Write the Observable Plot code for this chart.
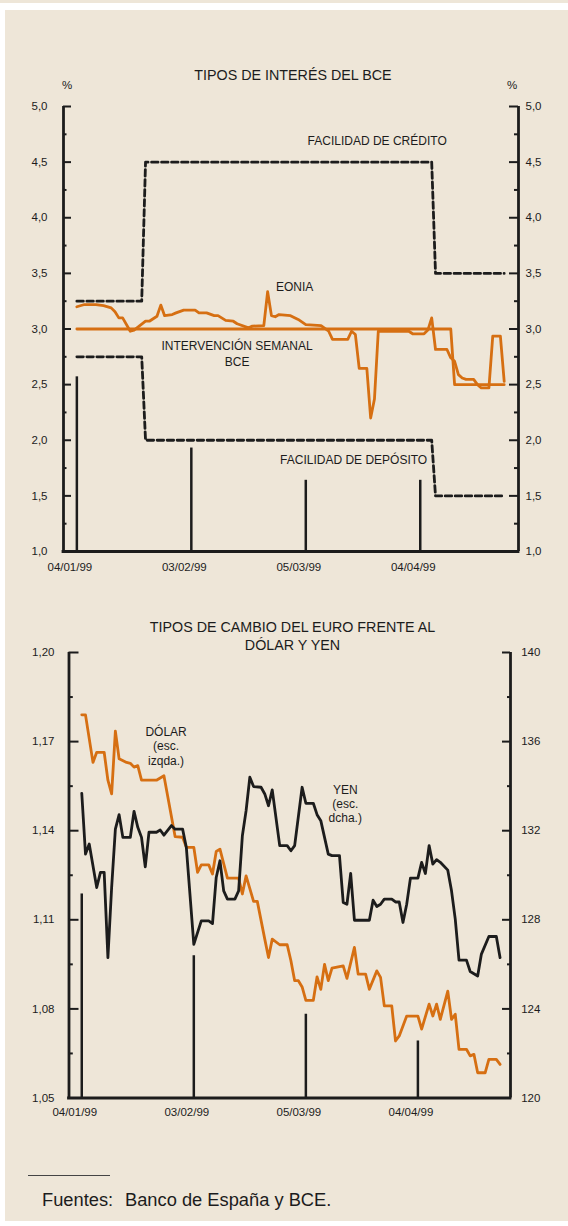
<!DOCTYPE html>
<html><head><meta charset="utf-8">
<script src="https://cdn.jsdelivr.net/npm/d3@7"></script>
<script src="https://cdn.jsdelivr.net/npm/@observablehq/plot@0.6"></script>
<style>
html,body{margin:0;padding:0;background:#fff;}
#page{position:relative;width:568px;height:1226px;overflow:hidden;font-family:"Liberation Sans",Arial,sans-serif;color:#1c1c1c;background:#fff;}
.bg{position:absolute;background:#eee6d8;}
.lbl{position:absolute;white-space:nowrap;line-height:1;transform:translate(-50%,-50%);}
.lft{position:absolute;white-space:nowrap;line-height:1;transform:translate(0,-50%);}
svg{position:absolute;}
</style></head>
<body><div id="page">
<div class="bg" style="left:0;top:0;width:568px;height:3px"></div>
<div class="bg" style="left:5px;top:10px;width:563px;height:1211px"></div>
<div class="lbl" style="left:293px;top:75px;font-size:14.3px">TIPOS DE INTERÉS DEL BCE</div>
<div class="lbl" style="left:67px;top:86px;font-size:11.5px">%</div>
<div class="lbl" style="left:512px;top:86px;font-size:11.5px">%</div>
<div class="lbl" style="left:292.5px;top:626.7px;font-size:14.3px">TIPOS DE CAMBIO DEL EURO FRENTE AL</div>
<div class="lbl" style="left:292.5px;top:645px;font-size:14.3px">DÓLAR Y YEN</div>
<div style="position:absolute;left:28px;top:1175px;width:82px;border-top:1px solid #444"></div>
<div class="lft" style="left:42px;top:1200px;font-size:18.3px">Fuentes:</div>
<div class="lft" style="left:125px;top:1200px;font-size:18.3px">Banco de España y BCE.</div>
</div>
<script>
// ---------- DATA ----------
const monthTicks = ["1999-01-04", "1999-02-03", "1999-03-05", "1999-04-04"];
const monthLineTop1 = [2.57, 1.93, 1.64, 1.64];
const monthLineTop2 = [1.1187, 1.0979, 1.0782, 1.0692];

const rateTicks = [1.0, 1.5, 2.0, 2.5, 3.0, 3.5, 4.0, 4.5, 5.0];
const rateMinorTicks = [1.25, 1.75, 2.25, 2.75, 3.25, 3.75, 4.25, 4.75];
const usdTicks = [1.05, 1.08, 1.11, 1.14, 1.17, 1.20];
const usdMinorTicks = [1.065, 1.095, 1.125, 1.155, 1.185];
const yenTicks = [120, 124, 128, 132, 136, 140];
const yenMinorTicks = [122, 126, 130, 134, 138];

const credito = [["1999-01-04",3.25],["1999-01-21",3.25],["1999-01-22",4.5],["1999-04-07",4.5],["1999-04-08",3.5],["1999-04-26",3.5]];
const deposito = [["1999-01-04",2.75],["1999-01-21",2.75],["1999-01-22",2.0],["1999-04-07",2.0],["1999-04-08",1.5],["1999-04-26",1.5]];
const intervencion = [["1999-01-04",3.0],["1999-04-12",3.0],["1999-04-13",2.5],["1999-04-26",2.5]];
const eonia = [
["1999-01-04",3.20],["1999-01-06",3.22],["1999-01-09",3.22],["1999-01-11",3.21],["1999-01-13",3.19],
["1999-01-14",3.155],["1999-01-15",3.10],["1999-01-16",3.10],["1999-01-18",2.98],["1999-01-19",2.99],
["1999-01-22",3.07],["1999-01-23",3.07],["1999-01-25",3.115],["1999-01-26",3.215],["1999-01-27",3.12],
["1999-01-29",3.13],["1999-01-30",3.145],["1999-02-01",3.17],["1999-02-04",3.17],["1999-02-05",3.145],
["1999-02-07",3.145],["1999-02-09",3.12],["1999-02-10",3.12],["1999-02-12",3.077],["1999-02-14",3.07],
["1999-02-15",3.047],["1999-02-18",3.01],["1999-02-19",3.026],["1999-02-22",3.03],["1999-02-23",3.335],
["1999-02-24",3.12],["1999-02-25",3.11],["1999-02-26",3.13],["1999-03-01",3.12],["1999-03-03",3.086],
["1999-03-05",3.04],["1999-03-09",3.03],["1999-03-11",2.98],["1999-03-12",2.906],["1999-03-16",2.906],
["1999-03-17",2.98],["1999-03-18",2.95],["1999-03-19",2.646],["1999-03-21",2.646],["1999-03-22",2.20],
["1999-03-23",2.37],["1999-03-24",2.98],["1999-04-01",2.98],["1999-04-02",2.957],["1999-04-05",2.957],
["1999-04-06",2.99],["1999-04-07",3.10],["1999-04-08",2.816],["1999-04-11",2.816],["1999-04-12",2.741],
["1999-04-13",2.71],["1999-04-14",2.59],["1999-04-15",2.56],["1999-04-16",2.547],["1999-04-18",2.547],
["1999-04-19",2.50],["1999-04-20",2.47],["1999-04-22",2.47],["1999-04-23",2.936],["1999-04-25",2.936],
["1999-04-26",2.53]];

const dolar = [
["1999-01-04",1.179],["1999-01-05",1.179],["1999-01-07",1.163],["1999-01-08",1.1664],["1999-01-10",1.1664],
["1999-01-11",1.157],["1999-01-12",1.1524],["1999-01-13",1.1735],["1999-01-14",1.1642],["1999-01-16",1.163],
["1999-01-17",1.1627],["1999-01-18",1.1614],["1999-01-19",1.1619],["1999-01-20",1.157],["1999-01-24",1.157],
["1999-01-26",1.1585],["1999-01-29",1.138],["1999-01-31",1.1378],["1999-02-01",1.1344],["1999-02-03",1.1344],
["1999-02-04",1.126],["1999-02-05",1.1285],["1999-02-07",1.1285],["1999-02-08",1.1254],["1999-02-09",1.133],
["1999-02-10",1.1338],["1999-02-12",1.124],["1999-02-15",1.124],["1999-02-16",1.1187],["1999-02-17",1.1248],
["1999-02-19",1.1162],["1999-02-20",1.1162],["1999-02-22",1.1035],["1999-02-23",1.0973],["1999-02-24",1.1035],
["1999-02-26",1.1016],["1999-02-28",1.1016],["1999-03-01",1.0962],["1999-03-02",1.0895],["1999-03-03",1.0895],
["1999-03-04",1.0874],["1999-03-05",1.0829],["1999-03-07",1.0829],["1999-03-08",1.0908],["1999-03-09",1.0866],
["1999-03-10",1.095],["1999-03-11",1.0895],["1999-03-12",1.0937],["1999-03-15",1.0945],["1999-03-16",1.0903],
["1999-03-18",1.1007],["1999-03-19",1.0917],["1999-03-21",1.0917],["1999-03-22",1.0866],["1999-03-24",1.0928],
["1999-03-25",1.0906],["1999-03-26",1.081],["1999-03-28",1.081],["1999-03-29",1.0692],["1999-03-30",1.0709],
["1999-04-01",1.0776],["1999-04-04",1.0776],["1999-04-05",1.0732],["1999-04-07",1.0816],["1999-04-08",1.0776],
["1999-04-09",1.0816],["1999-04-10",1.0765],["1999-04-12",1.086],["1999-04-13",1.0765],["1999-04-14",1.0782],
["1999-04-15",1.0664],["1999-04-17",1.0664],["1999-04-18",1.0642],["1999-04-19",1.0647],["1999-04-20",1.0585],
["1999-04-22",1.0585],["1999-04-23",1.063],["1999-04-25",1.063],["1999-04-26",1.0613]];

const yen = [
["1999-01-04",133.68],["1999-01-05",130.95],["1999-01-06",131.4],["1999-01-08",129.45],["1999-01-09",130.13],
["1999-01-10",130.13],["1999-01-11",126.3],["1999-01-12",129.45],["1999-01-13",132.07],["1999-01-14",132.72],
["1999-01-15",131.7],["1999-01-17",131.7],["1999-01-18",132.87],["1999-01-19",132.15],["1999-01-20",131.7],
["1999-01-21",130.38],["1999-01-22",131.93],["1999-01-24",131.93],["1999-01-25",132.03],["1999-01-26",131.8],
["1999-01-28",132.23],["1999-01-29",132.07],["1999-01-31",132.07],["1999-02-01",131.25],["1999-02-03",126.9],
["1999-02-05",127.95],["1999-02-07",127.95],["1999-02-08",127.83],["1999-02-09",129.9],["1999-02-10",130.65],
["1999-02-11",129.3],["1999-02-12",128.93],["1999-02-14",128.93],["1999-02-15",129.3],["1999-02-16",131.77],
["1999-02-17",132.9],["1999-02-18",134.4],["1999-02-19",133.98],["1999-02-21",133.95],["1999-02-22",133.65],
["1999-02-23",133.12],["1999-02-24",133.83],["1999-02-26",131.33],["1999-02-28",131.33],["1999-03-01",131.1],
["1999-03-02",131.33],["1999-03-04",133.95],["1999-03-05",133.23],["1999-03-07",133.23],["1999-03-08",132.72],
["1999-03-09",132.45],["1999-03-11",130.95],["1999-03-12",130.88],["1999-03-14",130.88],["1999-03-15",128.78],
["1999-03-16",128.7],["1999-03-17",130.08],["1999-03-18",127.98],["1999-03-22",127.98],["1999-03-23",128.88],
["1999-03-24",128.6],["1999-03-25",128.7],["1999-03-26",128.93],["1999-03-28",128.93],["1999-03-29",128.8],
["1999-03-30",128.8],["1999-03-31",127.88],["1999-04-01",128.7],["1999-04-02",129.87],["1999-04-04",129.87],
["1999-04-05",130.58],["1999-04-06",130.08],["1999-04-07",131.33],["1999-04-08",130.5],["1999-04-09",130.7],
["1999-04-10",130.58],["1999-04-12",130.23],["1999-04-13",129.3],["1999-04-14",128.03],["1999-04-15",126.19],
["1999-04-17",126.19],["1999-04-18",125.68],["1999-04-20",125.48],["1999-04-21",126.46],["1999-04-23",127.25],
["1999-04-25",127.25],["1999-04-26",126.3]];

// annotation labels (data coordinates)
const labels1 = [
  {text: "FACILIDAD DE CRÉDITO", date: "1999-03-23T17:00", value: 4.70},
  {text: "EONIA", date: "1999-03-02T02:00", value: 3.387},
  {text: "INTERVENCIÓN SEMANAL\nBCE", date: "1999-02-15T00:00", value: 2.789},
  {text: "FACILIDAD DE DEPÓSITO", date: "1999-03-17T13:00", value: 1.833}
];
const labels2 = [
  {text: "DÓLAR\n(esc.\nizqda.)", date: "1999-01-26T14:00", value: 1.1686},
  {text: "YEN\n(esc.\ndcha.)", date: "1999-03-15T13:00", value: 1.1492}
];

// ---------- HELPERS ----------
const FONT = "'Liberation Sans', Arial, sans-serif";
const INK = "#1c1c1c";
const ORANGE = "#d66f12";
const pd = d3.utcParse("%Y-%m-%d");
const rows = arr => arr.map(([d, v]) => ({date: pd(d), value: v}));
const months = monthTicks.map(pd);
const isoT = d3.utcParse("%Y-%m-%dT%H:%M");
const comma = f => d => d3.format(f)(d).replace(".", ",");
const yenToUsd = v => 1.05 + (v - 120) * 0.0075;
const usdToYen = v => 120 + (v - 1.05) / 0.0075;
const dateFmt = d3.utcFormat("%d/%m/%y");
const page = document.getElementById("page");

// ---------- CHART 1 ----------
{
  const W = 568, ML = 63, MR = 50, PW = W - ML - MR;
  const xd = [new Date(Date.UTC(1998, 11, 31, 12)), new Date(Date.UTC(1999, 3, 29, 18))];
  const lines = months.map((d, i) => ({date: d, top: monthLineTop1[i]}));
  const svg = Plot.plot({
    width: W, height: 500, marginLeft: ML, marginRight: MR, marginTop: 11, marginBottom: 44,
    x: {type: "utc", domain: xd},
    y: {domain: [1, 5]},
    style: {background: "transparent", fontFamily: FONT, fontSize: "11.5px", color: INK, overflow: "visible"},
    marks: [
      Plot.ruleX(lines, {x: "date", y1: 1, y2: "top", stroke: INK, strokeWidth: 2.5}),
      Plot.line(rows(credito), {x: "date", y: "value", stroke: INK, strokeWidth: 2.8, strokeDasharray: "6.5,3.5"}),
      Plot.line(rows(deposito), {x: "date", y: "value", stroke: INK, strokeWidth: 2.8, strokeDasharray: "6.5,3.5"}),
      Plot.line(rows(intervencion), {x: "date", y: "value", stroke: ORANGE, strokeWidth: 2.8}),
      Plot.line(rows(eonia), {x: "date", y: "value", stroke: ORANGE, strokeWidth: 2.8}),
      Plot.ruleX(xd, {x: d => d, y1: 1, y2: 5, stroke: INK, strokeWidth: 2.8}),
      Plot.ruleY([1], {x1: xd[0], x2: xd[1], stroke: INK, strokeWidth: 2.8, strokeLinecap: "square"}),
      Plot.tickY(rateTicks, {y: d => d, insetRight: PW - 8, stroke: INK, strokeWidth: 2}),
      Plot.tickY(rateMinorTicks, {y: d => d, insetRight: PW - 3.5, stroke: INK, strokeWidth: 2}),
      Plot.tickY(rateTicks, {y: d => d, insetLeft: PW - 9, stroke: INK, strokeWidth: 2}),
      Plot.tickY(rateMinorTicks, {y: d => d, insetLeft: PW - 4, stroke: INK, strokeWidth: 2}),
      Plot.axisY(rateTicks, {anchor: "left", tickSize: 0, tickPadding: 16, tickFormat: comma(".1f"), label: null, fill: INK}),
      Plot.axisY(rateTicks, {anchor: "right", tickSize: 0, tickPadding: 7, tickFormat: comma(".1f"), label: null, fill: INK}),
      Plot.axisX(months, {anchor: "bottom", tickSize: 0, tickPadding: 11.6, tickFormat: dateFmt, dx: -7, label: null, fill: INK}),
      Plot.text(labels1, {x: d => isoT(d.date), y: "value", text: "text", fontSize: 12, lineHeight: 1.33, fill: INK})
    ]
  });
  svg.style.left = "0px"; svg.style.top = "95px";
  page.appendChild(svg);
}

// ---------- CHART 2 ----------
{
  const W = 568, ML = 68.5, MR = 58, PW = W - ML - MR;
  const xd = [new Date(Date.UTC(1998, 11, 31, 14)), new Date(Date.UTC(1999, 3, 28, 19))];
  const lines = months.map((d, i) => ({date: d, top: monthLineTop2[i]}));
  const svg = Plot.plot({
    width: W, height: 500, marginLeft: ML, marginRight: MR, marginTop: 12, marginBottom: 42.5,
    x: {type: "utc", domain: xd},
    y: {domain: [1.05, 1.20]},
    style: {background: "transparent", fontFamily: FONT, fontSize: "11.5px", color: INK, overflow: "visible"},
    marks: [
      Plot.ruleX(lines, {x: "date", y1: 1.05, y2: "top", stroke: INK, strokeWidth: 2.5}),
      Plot.line(rows(dolar), {x: "date", y: "value", stroke: ORANGE, strokeWidth: 2.8}),
      Plot.line(rows(yen), {x: "date", y: d => yenToUsd(d.value), stroke: INK, strokeWidth: 2.8}),
      Plot.ruleX(xd, {x: d => d, y1: 1.05, y2: 1.20, stroke: INK, strokeWidth: 2.8}),
      Plot.ruleY([1.05], {x1: xd[0], x2: xd[1], stroke: INK, strokeWidth: 2.8, strokeLinecap: "square"}),
      Plot.tickY(usdTicks, {y: d => d, insetRight: PW - 10, stroke: INK, strokeWidth: 2}),
      Plot.tickY(usdMinorTicks, {y: d => d, insetRight: PW - 4.3, stroke: INK, strokeWidth: 2}),
      Plot.tickY(yenTicks.map(yenToUsd), {y: d => d, insetLeft: PW - 8, stroke: INK, strokeWidth: 2}),
      Plot.tickY(yenMinorTicks.map(yenToUsd), {y: d => d, insetLeft: PW - 3, stroke: INK, strokeWidth: 2}),
      Plot.axisY(usdTicks, {anchor: "left", tickSize: 0, tickPadding: 14.5, tickFormat: comma(".2f"), label: null, fill: INK}),
      Plot.axisY(yenTicks.map(yenToUsd), {anchor: "right", tickSize: 0, tickPadding: 10.7, tickFormat: d => String(Math.round(usdToYen(d))), label: null, fill: INK}),
      Plot.axisX(months, {anchor: "bottom", tickSize: 0, tickPadding: 10.1, tickFormat: dateFmt, dx: -7, label: null, fill: INK}),
      Plot.text(labels2, {x: d => isoT(d.date), y: "value", text: "text", fontSize: 12, lineHeight: 1.2, fill: INK})
    ]
  });
  svg.style.left = "0px"; svg.style.top = "640px";
  page.appendChild(svg);
}
</script>
</body></html>
